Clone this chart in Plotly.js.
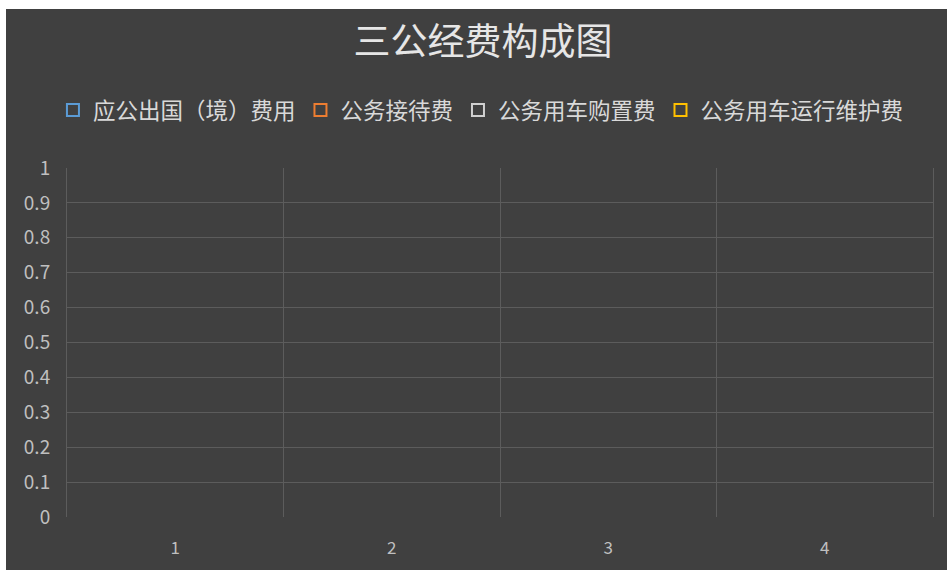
<!DOCTYPE html>
<html>
<head>
<meta charset="utf-8">
<script src="https://cdn.plot.ly/plotly-3.0.1.min.js"></script>
<style>
  html, body { margin: 0; padding: 0; background: #ffffff; width: 947px; height: 570px; overflow: hidden; }
  #chart { position: absolute; left: 6px; top: 9px; width: 941px; height: 561px; }
</style>
</head>
<body>
<div id="chart"></div>
<script>
const chartTitle = "三公经费构成图";
const categories = ["1", "2", "3", "4"];
const seriesNames = ["应公出国（境）费用", "公务接待费", "公务用车购置费", "公务用车运行维护费"];
const seriesOutlineColors = ["#5b9bd5", "#ed7d31", "#d0d0d0", "#ffc000"];
// The reference shows no bars: every series is empty
const seriesA = [null, null, null, null];
const seriesB = [null, null, null, null];
const seriesC = [null, null, null, null];
const seriesD = [null, null, null, null];
const yTicks = [0, 0.1, 0.2, 0.3, 0.4, 0.5, 0.6, 0.7, 0.8, 0.9, 1];

const allSeries = [seriesA, seriesB, seriesC, seriesD];
const bg = "#404040";
const grid = "#5c5c5c";
const font = "'Noto Sans CJK SC', 'Noto Sans', sans-serif";

const traces = allSeries.map((vals, i) => ({
  type: "bar",
  name: seriesNames[i],
  x: categories,
  y: vals,
  marker: { color: "rgba(0,0,0,0)", line: { color: seriesOutlineColors[i], width: 2 } },
  hoverinfo: "none"
}));

const layout = {
  width: 941,
  height: 561,
  paper_bgcolor: bg,
  plot_bgcolor: bg,
  margin: { l: 61, r: 14, t: 159, b: 53 },
  font: { family: font, color: "#d9d9d9" },
  title: {
    text: chartTitle,
    font: { family: font, size: 37, color: "#e6e6e6" },
    x: 0.507, xanchor: "center",
    y: 0.941, yanchor: "middle"
  },
  showlegend: true,
  legend: {
    orientation: "h",
    x: 0.478, xanchor: "center",
    y: 1.165, yanchor: "middle",
    font: { family: font, size: 22.5, color: "#d9d9d9" },
    bgcolor: "rgba(0,0,0,0)",
    itemclick: false,
    traceorder: "normal"
  },
  barmode: "group",
  xaxis: {
    type: "category",
    range: [-0.5, 3.5],
    tickson: "boundaries",
    showgrid: true,
    gridcolor: grid,
    gridwidth: 1,
    ticks: "",
    showline: false,
    zeroline: false,
    tickfont: { family: font, size: 17, color: "#bfbfbf" },
    ticklabelstandoff: 19
  },
  yaxis: {
    range: [0, 1],
    tickvals: yTicks,
    showgrid: true,
    gridcolor: grid,
    gridwidth: 1,
    zeroline: true,
    zerolinecolor: bg,
    showline: true,
    mirror: true,
    linecolor: grid,
    linewidth: 1,
    ticks: "",
    tickfont: { family: font, size: 19, color: "#bfbfbf" },
    ticklabelstandoff: 12
  }
};

Plotly.newPlot("chart", traces, layout, { displayModeBar: false, staticPlot: true });
</script>
</body>
</html>
